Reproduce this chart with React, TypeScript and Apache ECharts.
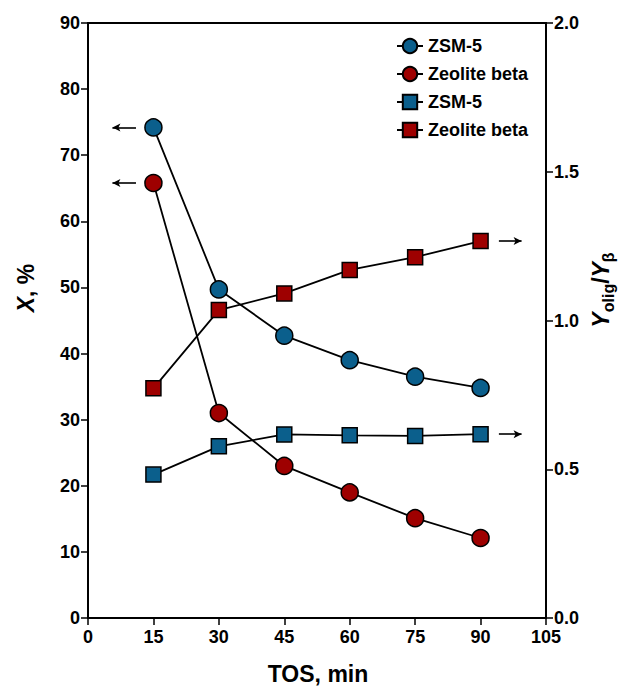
import React, { useEffect, useRef } from "react";
import * as echarts from "echarts";

// Time on stream, min
const tos = [15, 30, 45, 60, 75, 90];
// Conversion X, % (left axis)
const convZsm5 = [74.2, 49.7, 42.7, 39.0, 36.5, 34.8];
const convBeta = [65.8, 31.0, 23.0, 19.0, 15.1, 12.1];
// Yield ratio Y_olig / Y_beta (right axis)
const ratioZsm5 = [0.482, 0.577, 0.617, 0.614, 0.612, 0.618];
const ratioBeta = [0.772, 1.035, 1.091, 1.17, 1.213, 1.267];

const xTicks = { min: 0, max: 105, interval: 15 };
const leftTicks = { min: 0, max: 90, interval: 10 };
const rightTicks = { min: 0, max: 2, interval: 0.5 };

const BLUE = "#0b5f8c";
const RED = "#9e0000";
const FONT = "'Liberation Sans', Arial, sans-serif";

const pairs = (xs: number[], ys: number[]) => xs.map((x, i) => [x, ys[i]]);

// Arrow pointing from the first point toward the axis the series belongs to
const arrow = (from: number[], to: number[]) => ({
  silent: true,
  symbol: ["none", "arrow"],
  symbolSize: [6, 8],
  label: { show: false },
  lineStyle: { color: "#000", width: 1.6, type: "solid" },
  emphasis: { disabled: true },
  data: [[{ coord: from }, { coord: to }]],
});

export default function App() {
  const ref = useRef<HTMLDivElement>(null);

  useEffect(() => {
    if (!ref.current) return;
    const chart = echarts.init(ref.current, undefined, { renderer: "svg" });

    const axisCommon = {
      axisLine: { show: true, lineStyle: { color: "#000", width: 2 } },
      axisTick: { show: true, inside: false, length: 7, lineStyle: { color: "#000", width: 1.5 } },
      axisLabel: { color: "#000", fontFamily: FONT, fontWeight: "bold", fontSize: 18 },
      splitLine: { show: false },
    };

    const lineSeries = (name: string, data: number[][], color: string, symbol: string, size: number, yIndex: number, markLine: any) => ({
      name,
      type: "line",
      yAxisIndex: yIndex,
      data,
      symbol,
      symbolSize: size,
      showSymbol: true,
      lineStyle: { color: "#000", width: 1.8 },
      itemStyle: { color, borderColor: "#000", borderWidth: 1.5 },
      markLine,
    });

    const firstZ = convZsm5[0];
    const firstB = convBeta[0];
    const lastZr = ratioZsm5[ratioZsm5.length - 1];
    const lastBr = ratioBeta[ratioBeta.length - 1];

    chart.setOption({
      animation: false,
      backgroundColor: "#fff",
      grid: { left: 88, right: 90, top: 23, bottom: 72, show: true, borderColor: "#000", borderWidth: 2, backgroundColor: "transparent" },
      legend: {
        orient: "vertical",
        left: 391,
        top: 32,
        itemWidth: 26,
        itemHeight: 18,
        itemGap: 10,
        textStyle: { color: "#000", fontFamily: FONT, fontWeight: "bold", fontSize: 18 },
        data: ["ZSM-5 (X)", "Zeolite beta (X)", "ZSM-5 (Y)", "Zeolite beta (Y)"],
        formatter: (n: string) => n.replace(/ \(.\)$/, ""),
      },
      xAxis: {
        type: "value",
        ...xTicks,
        ...axisCommon,
        axisLabel: { ...axisCommon.axisLabel, margin: 10 },
      },
      yAxis: [
        {
          type: "value",
          position: "left",
          ...leftTicks,
          ...axisCommon,
          axisLabel: { ...axisCommon.axisLabel, margin: 8 },
        },
        {
          type: "value",
          position: "right",
          ...rightTicks,
          ...axisCommon,
          axisLabel: { ...axisCommon.axisLabel, margin: 8, formatter: (v: number) => v.toFixed(1) },
        },
      ],
      series: [
        lineSeries("ZSM-5 (X)", pairs(tos, convZsm5), BLUE, "circle", 17, 0, arrow([11, firstZ], [5.6, firstZ])),
        lineSeries("Zeolite beta (X)", pairs(tos, convBeta), RED, "circle", 17, 0, arrow([11, firstB], [5.6, firstB])),
        lineSeries("ZSM-5 (Y)", pairs(tos, ratioZsm5), BLUE, "rect", 15, 1, arrow([94.2, lastZr], [99.4, lastZr])),
        lineSeries("Zeolite beta (Y)", pairs(tos, ratioBeta), RED, "rect", 15, 1, arrow([94.2, lastBr], [99.4, lastBr])),
      ],
      graphic: [
        {
          type: "text",
          x: 26,
          y: 288,
          rotation: Math.PI / 2,
          style: {
            text: "{i|X}{n|, %}",
            align: "center",
            verticalAlign: "middle",
            rich: {
              i: { fontFamily: FONT, fontWeight: "bold", fontStyle: "italic", fontSize: 23, fill: "#000" },
              n: { fontFamily: FONT, fontWeight: "bold", fontSize: 23, fill: "#000" },
            },
          },
        },
        {
          type: "text",
          x: 601,
          y: 290,
          rotation: Math.PI / 2,
          style: {
            text: "{i|Y}{s|olig}{n|/}{i|Y}{s|β}",
            align: "center",
            verticalAlign: "middle",
            rich: {
              i: { fontFamily: FONT, fontWeight: "bold", fontStyle: "italic", fontSize: 23, fill: "#000", lineHeight: 30 },
              n: { fontFamily: FONT, fontWeight: "bold", fontSize: 23, fill: "#000", lineHeight: 30 },
              s: { fontFamily: FONT, fontWeight: "bold", fontSize: 16, fill: "#000", verticalAlign: "bottom", lineHeight: 30 },
            },
          },
        },
        {
          type: "text",
          left: "center",
          top: 662,
          style: {
            text: "TOS, min",
            fontFamily: FONT,
            fontWeight: "bold",
            fontSize: 23,
            fill: "#000",
          },
        },
      ],
    });

    return () => chart.dispose();
  }, []);

  return <div ref={ref} style={{ width: 636, height: 690, position: "absolute", left: 0, top: 0 }} />;
}
